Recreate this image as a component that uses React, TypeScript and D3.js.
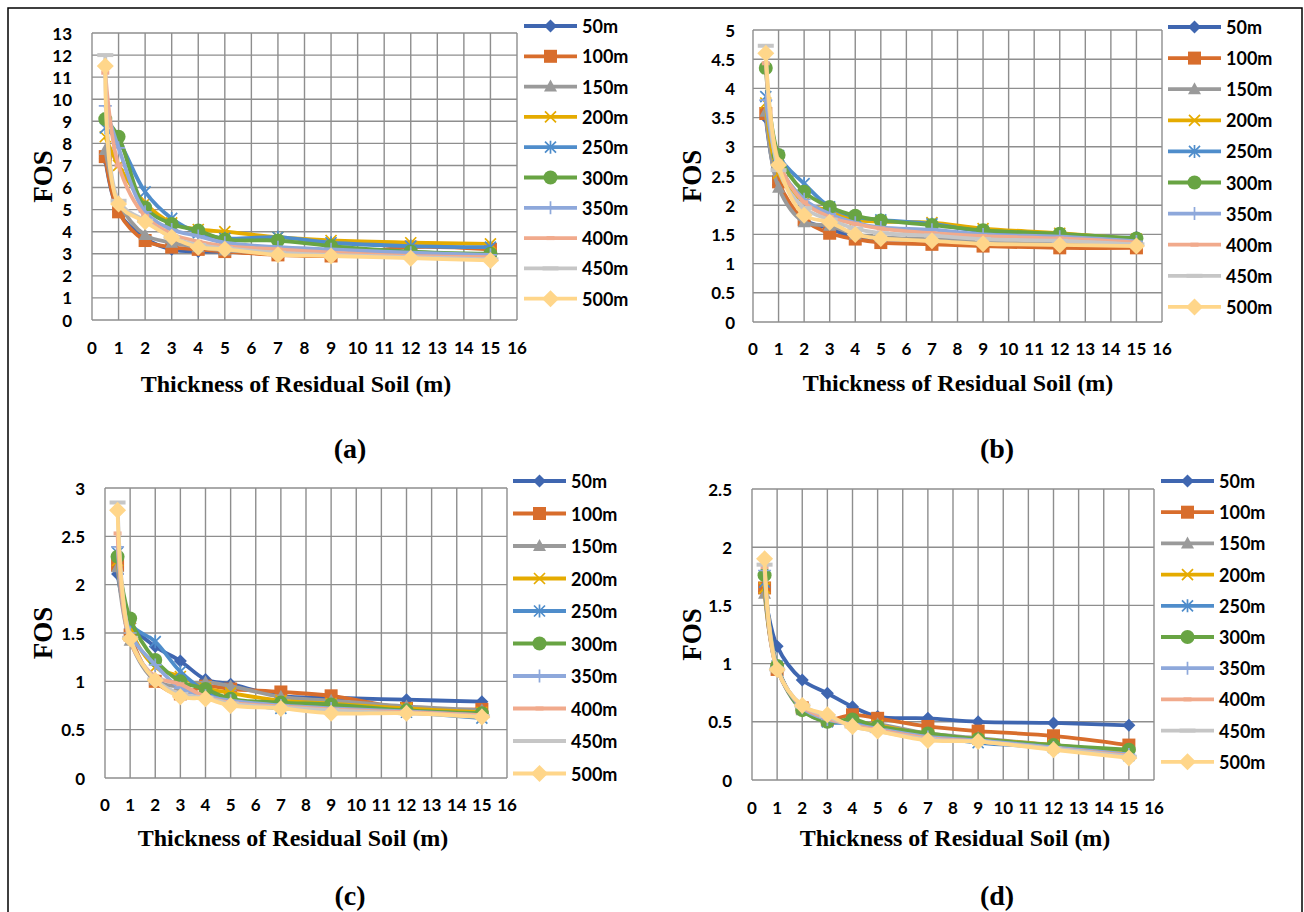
import React from 'react';
import * as d3 from 'd3';

// thickness of residual soil (m), shared by every panel
const thickness = [0.5, 1, 2, 3, 4, 5, 7, 9, 12, 15];
const seriesNames = ['50m', '100m', '150m', '200m', '250m', '300m', '350m', '400m', '450m', '500m'];
const xTicks = d3.range(0, 17);

// FOS values, one row per series (50m ... 500m)
const fosA = [
  [7.3, 4.9, 3.7, 3.2, 3.1, 3.1, 3.0, 3.0, 2.95, 2.9],
  [7.4, 4.9, 3.6, 3.3, 3.2, 3.1, 2.95, 2.9, 3.3, 3.2],
  [7.7, 5.35, 3.85, 3.5, 3.3, 3.15, 3.05, 3.0, 2.95, 2.9],
  [8.3, 7.0, 5.3, 4.4, 4.1, 4.0, 3.75, 3.6, 3.5, 3.45],
  [8.7, 8.1, 5.8, 4.6, 3.95, 3.7, 3.75, 3.5, 3.35, 3.3],
  [9.1, 8.3, 5.1, 4.35, 4.05, 3.65, 3.6, 3.35, 3.1, 3.0],
  [9.7, 7.8, 4.9, 4.1, 3.8, 3.5, 3.3, 3.2, 3.05, 2.95],
  [11.2, 7.0, 4.7, 3.9, 3.55, 3.35, 3.2, 3.05, 2.9, 2.85],
  [12.0, 5.4, 4.5, 3.75, 3.4, 3.25, 3.05, 2.95, 2.85, 2.75],
  [11.5, 5.25, 4.45, 3.75, 3.3, 3.2, 2.95, 2.9, 2.8, 2.7],
];
const fosB = [
  [3.5, 2.35, 1.75, 1.6, 1.45, 1.42, 1.4, 1.38, 1.42, 1.45],
  [3.57, 2.4, 1.75, 1.52, 1.42, 1.36, 1.33, 1.3, 1.27, 1.27],
  [3.6, 2.3, 1.71, 1.65, 1.5, 1.45, 1.42, 1.38, 1.36, 1.35],
  [3.75, 2.55, 2.05, 1.9, 1.75, 1.72, 1.7, 1.6, 1.52, 1.42],
  [3.86, 2.85, 2.37, 1.97, 1.8, 1.75, 1.68, 1.55, 1.48, 1.4],
  [4.35, 2.86, 2.23, 1.97, 1.82, 1.74, 1.66, 1.57, 1.51, 1.43],
  [3.8, 2.7, 2.1, 1.85, 1.7, 1.62, 1.58, 1.5, 1.46, 1.38],
  [4.43, 2.75, 2.05, 1.8, 1.68, 1.6, 1.52, 1.47, 1.43, 1.36],
  [4.73, 2.6, 1.95, 1.75, 1.6, 1.52, 1.48, 1.42, 1.39, 1.33],
  [4.6, 2.69, 1.83, 1.71, 1.5, 1.43, 1.39, 1.34, 1.32, 1.3],
];
const fosC = [
  [2.11, 1.6, 1.36, 1.21, 1.02, 0.97, 0.85, 0.83, 0.81, 0.79],
  [2.2, 1.48, 1.0, 0.87, 0.95, 0.92, 0.89, 0.85, 0.72, 0.71],
  [2.18, 1.42, 1.01, 0.95, 0.99, 0.95, 0.84, 0.8, 0.74, 0.7],
  [2.25, 1.55, 1.15, 1.05, 0.93, 0.88, 0.8, 0.77, 0.72, 0.68],
  [2.33, 1.6, 1.41, 1.1, 0.9, 0.8, 0.72, 0.74, 0.68, 0.62],
  [2.29, 1.65, 1.22, 1.0, 0.92, 0.82, 0.78, 0.76, 0.7, 0.67],
  [2.39, 1.5, 1.17, 0.93, 0.85, 0.8, 0.75, 0.72, 0.69, 0.65],
  [2.53, 1.42, 1.05, 0.97, 0.84, 0.78, 0.74, 0.71, 0.68, 0.65],
  [2.85, 1.45, 1.02, 0.87, 0.83, 0.77, 0.73, 0.7, 0.67, 0.64],
  [2.77, 1.44, 1.01, 0.84, 0.82, 0.75, 0.72, 0.67, 0.67, 0.63],
];
const fosD = [
  [1.62, 1.15, 0.86, 0.745, 0.63, 0.545, 0.53, 0.5, 0.49, 0.47],
  [1.65, 0.95, 0.62, 0.52, 0.56, 0.53, 0.46, 0.42, 0.38, 0.3],
  [1.6, 0.96, 0.6, 0.5, 0.5, 0.48, 0.4, 0.36, 0.3, 0.24],
  [1.65, 0.97, 0.62, 0.52, 0.5, 0.47, 0.39, 0.35, 0.3, 0.23],
  [1.7, 0.98, 0.61, 0.5, 0.49, 0.45, 0.38, 0.32, 0.28, 0.21],
  [1.76, 0.98, 0.6, 0.5, 0.52, 0.46, 0.4, 0.35, 0.3, 0.26],
  [1.8, 0.97, 0.62, 0.52, 0.48, 0.44, 0.37, 0.34, 0.28, 0.22],
  [1.83, 0.96, 0.63, 0.53, 0.47, 0.43, 0.36, 0.33, 0.27, 0.21],
  [1.85, 0.95, 0.64, 0.55, 0.46, 0.42, 0.35, 0.33, 0.27, 0.2],
  [1.9, 0.95, 0.64, 0.56, 0.46, 0.42, 0.34, 0.33, 0.26, 0.19],
];

const colors = ['#3f66b0', '#d86d2c', '#9a9a9a', '#e5ab00', '#4f8dcb', '#68a443', '#8ea8db', '#f1aa8c', '#c6c6c6', '#ffd68a'];
const markerKinds = ['diamond', 'square', 'triangle', 'x', 'star', 'circle', 'plus', 'dash', 'longdash', 'bigdiamond'];

const tickFont = 'Lato, "Open Sans", sans-serif';
const serif = '"Liberation Serif", "DejaVu Serif", serif';

function Marker({ kind, cx, cy, color }: { kind: string; cx: number; cy: number; color: string }) {
  const r = 6.5;
  switch (kind) {
    case 'diamond':
      return <path d={`M${cx},${cy - r}L${cx + r},${cy}L${cx},${cy + r}L${cx - r},${cy}Z`} fill={color} />;
    case 'bigdiamond':
      return <path d={`M${cx},${cy - 8.5}L${cx + 8.5},${cy}L${cx},${cy + 8.5}L${cx - 8.5},${cy}Z`} fill={color} />;
    case 'square':
      return <rect x={cx - 6.5} y={cy - 6.5} width={13} height={13} fill={color} />;
    case 'triangle':
      return <path d={`M${cx},${cy - 7}L${cx + 6.5},${cy + 5}L${cx - 6.5},${cy + 5}Z`} fill={color} />;
    case 'circle':
      return <circle cx={cx} cy={cy} r={7} fill={color} />;
    case 'x':
      return <path d={`M${cx - 5.5},${cy - 5.5}L${cx + 5.5},${cy + 5.5}M${cx + 5.5},${cy - 5.5}L${cx - 5.5},${cy + 5.5}`} stroke={color} strokeWidth={1.7} />;
    case 'star':
      return <path d={`M${cx - 5.5},${cy - 5.5}L${cx + 5.5},${cy + 5.5}M${cx + 5.5},${cy - 5.5}L${cx - 5.5},${cy + 5.5}M${cx},${cy - 6.5}L${cx},${cy + 6.5}`} stroke={color} strokeWidth={1.7} />;
    case 'plus':
      return <path d={`M${cx - 6.5},${cy}L${cx + 6.5},${cy}M${cx},${cy - 6.5}L${cx},${cy + 6.5}`} stroke={color} strokeWidth={1.7} />;
    case 'dash':
      return <rect x={cx - 4} y={cy - 2} width={8} height={4} fill={color} />;
    case 'longdash':
      return <rect x={cx - 8} y={cy - 2} width={16} height={4} fill={color} />;
    default:
      return null;
  }
}

type PanelProps = {
  data: number[][];
  yMax: number;
  yStep: number;
  plot: [number, number, number, number]; // left, right, top, bottom
  yLabelX: number;
  xLabelY: number;
  legendX: number;
  legendY: number;
  legendGap: number;
  fosX: number;
  titleX: number;
  titleY: number;
  tag: string;
  tagX: number;
  tagY: number;
};

function Panel(p: PanelProps) {
  const [l, r, t, b] = p.plot;
  const x = d3.scaleLinear().domain([0, 16]).range([l, r]);
  const y = d3.scaleLinear().domain([0, p.yMax]).range([b, t]);
  const yTicks = d3.range(0, p.yMax + p.yStep / 2, p.yStep);
  const line = d3
    .line<number>()
    .x((_, i) => x(thickness[i]))
    .y((d) => y(d))
    .curve(d3.curveCatmullRom.alpha(0.5));

  return (
    <g>
      {/* grid */}
      <g stroke="#8e8e8e" strokeWidth={1.4}>
        {xTicks.map((v) => (
          <line key={'gx' + v} x1={x(v)} x2={x(v)} y1={t} y2={b} />
        ))}
        {yTicks.map((v) => (
          <line key={'gy' + v} x1={l} x2={r} y1={y(v)} y2={y(v)} />
        ))}
      </g>
      {/* tick labels */}
      <g fontFamily={tickFont} fontWeight="bold" fontSize={17} fill="#000">
        {xTicks.map((v) => (
          <text key={'tx' + v} x={x(v)} y={p.xLabelY} textAnchor="middle" dominantBaseline="central">
            {v}
          </text>
        ))}
        {yTicks.map((v) => (
          <text key={'ty' + v} x={p.yLabelX} y={y(v)} textAnchor="end" dominantBaseline="central">
            {d3.format('~g')(+v.toFixed(2))}
          </text>
        ))}
      </g>
      {/* series */}
      {p.data.map((row, si) => (
        <g key={'s' + si}>
          <path d={line(row) || ''} fill="none" stroke={colors[si]} strokeWidth={3.8} strokeLinejoin="round" />
          {row.map((v, i) => (
            <Marker key={i} kind={markerKinds[si]} cx={x(thickness[i])} cy={y(v)} color={colors[si]} />
          ))}
        </g>
      ))}
      {/* legend */}
      {seriesNames.map((name, si) => {
        const ly = p.legendY + si * p.legendGap;
        return (
          <g key={'lg' + si}>
            <line x1={p.legendX} x2={p.legendX + 53} y1={ly} y2={ly} stroke={colors[si]} strokeWidth={3.8} />
            <Marker kind={markerKinds[si]} cx={p.legendX + 26.5} cy={ly} color={colors[si]} />
            <text
              x={p.legendX + 58}
              y={ly}
              dominantBaseline="central"
              fontFamily={tickFont}
              fontWeight="bold"
              fontSize={18}
              fill="#000"
            >
              {name}
            </text>
          </g>
        );
      })}
      {/* axis titles */}
      <text
        transform={`translate(${p.fosX},${(t + b) / 2}) rotate(-90)`}
        textAnchor="middle"
        dominantBaseline="central"
        fontFamily={serif}
        fontWeight="bold"
        fontSize={27}
      >
        FOS
      </text>
      <text x={p.titleX} y={p.titleY} textAnchor="middle" dominantBaseline="central" fontFamily={serif} fontWeight="bold" fontSize={24}>
        Thickness of Residual Soil (m)
      </text>
      <text x={p.tagX} y={p.tagY} textAnchor="middle" dominantBaseline="central" fontFamily={serif} fontWeight="bold" fontSize={28}>
        {p.tag}
      </text>
    </g>
  );
}

export default function App() {
  return (
    <svg width={1304} height={912} style={{ position: 'absolute', left: 0, top: 0, background: '#fff' }}>
      <rect x={8} y={8} width={1294} height={920} fill="none" stroke="#000" strokeWidth={1.5} />
      <Panel
        data={fosA} yMax={13} yStep={1} plot={[92, 517, 33, 320]}
        yLabelX={72} xLabelY={347} legendX={524} legendY={26} legendGap={30.3}
        fosX={43} titleX={296} titleY={384} tag="(a)" tagX={350} tagY={448}
      />
      <Panel
        data={fosB} yMax={5} yStep={0.5} plot={[753, 1162, 30, 322]}
        yLabelX={735} xLabelY={348} legendX={1168} legendY={27} legendGap={31.1}
        fosX={692} titleX={958} titleY={383} tag="(b)" tagX={997} tagY={448}
      />
      <Panel
        data={fosC} yMax={3} yStep={0.5} plot={[105, 507, 488, 778]}
        yLabelX={85} xLabelY={804} legendX={513} legendY={481} legendGap={32.5}
        fosX={43} titleX={293} titleY={838} tag="(c)" tagX={350} tagY={895}
      />
      <Panel
        data={fosD} yMax={2.5} yStep={0.5} plot={[752, 1154, 489, 780]}
        yLabelX={732} xLabelY={807} legendX={1161} legendY={481} legendGap={31.2}
        fosX={692} titleX={955} titleY={838} tag="(d)" tagX={997} tagY={895}
      />
    </svg>
  );
}
